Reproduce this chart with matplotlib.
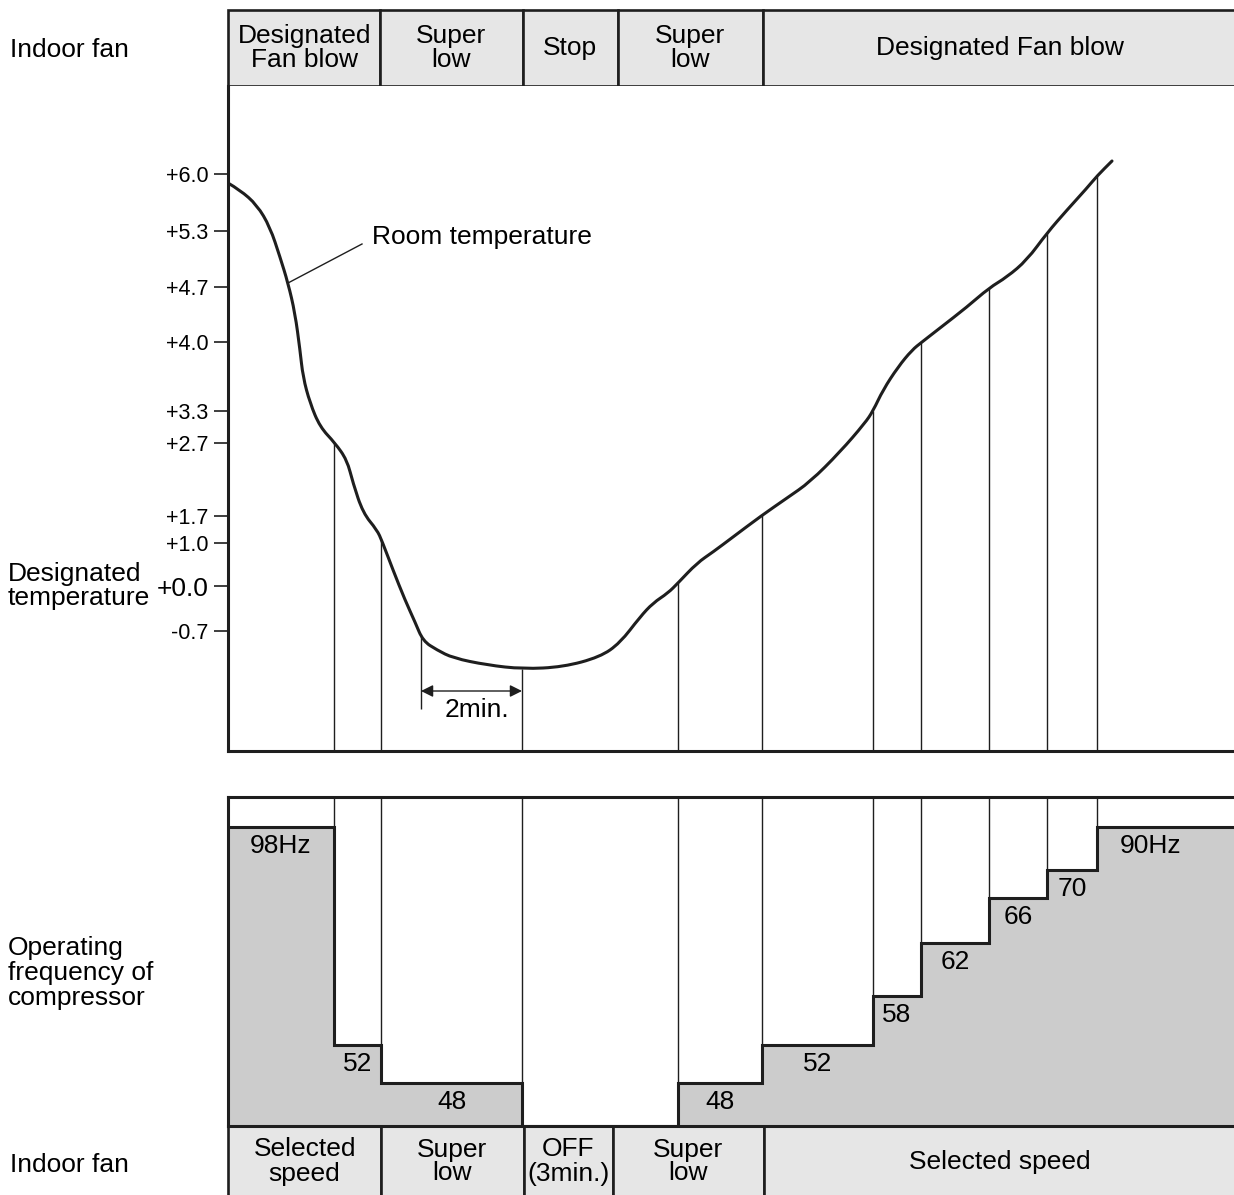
import numpy as np
import matplotlib
matplotlib.use("Agg")
import matplotlib.pyplot as plt
from matplotlib.path import Path
from matplotlib.patches import PathPatch

plt.rcParams['font.family'] = ['Liberation Sans', 'DejaVu Sans']

# ---------------- data ----------------
# time axis: schematic time units (0 .. 1006)
T_END = 1006

# indoor fan (top) segments
top_fan_edges = [0, 152, 294, 389, 534, T_END]
top_fan_labels = ["Designated\nFan blow", "Super\nlow", "Stop", "Super\nlow", "Designated Fan blow"]

# indoor fan (bottom) segments
bot_fan_edges = [0, 153, 295, 384, 535, T_END]
bot_fan_labels = ["Selected\nspeed", "Super\nlow", "OFF\n(3min.)", "Super\nlow", "Selected speed"]

# temperature scale (schematic levels) and labels
temp_levels = [577, 520, 464, 409, 340, 308, 235, 208, 165, 120]
temp_labels = ["+6.0", "+5.3", "+4.7", "+4.0", "+3.3", "+2.7", "+1.7", "+1.0", "+0.0", "-0.7"]

# room temperature curve (time, schematic level)
room_t = [0, 12, 29, 42, 52, 60, 67, 72, 75, 82, 92, 107, 119, 125, 135, 149, 154,
          165, 177, 187, 195, 209, 225, 259, 295, 335, 372, 392, 412, 425, 440, 450,
          469, 485, 505, 533, 559, 582, 612, 637, 645, 655, 670, 684, 694, 712, 739,
          761, 779, 799, 819, 839, 859, 869, 884]
room_h = [568, 561, 546, 524, 494, 468, 438, 401, 374, 348, 324, 308, 291, 268, 238, 221, 210,
          181, 151, 129, 110, 101, 93, 86, 82, 84, 94, 108, 134, 148, 158, 168,
          188, 199, 214, 235, 253, 269, 299, 328, 340, 361, 384, 401, 409, 423, 444,
          463, 474, 491, 518, 541, 563, 575, 590]

# times where the temperature crosses a threshold (drop lines)
switch_t = [106, 153, 294, 450, 534, 645, 693, 761, 819, 869]

# compressor frequency steps
freq_edges = [0, 106, 153, 294, 450, 534, 645, 693, 761, 819, 869, T_END]
freq_labels = ["98Hz", "52", "48", "", "48", "52", "58", "62", "66", "70", "90Hz"]
freq_level = [299, 81, 43, 0, 43, 81, 130, 183, 228, 256, 299]   # schematic heights

# 2 minute marker
two_min_start, two_min_end = 193, 294

# ---------------- layout ----------------
W, H = 1234, 1195
fig = plt.figure(figsize=(W / 100, H / 100), dpi=100)


def rect(x0, y0, x1, y1):
    return [x0 / W, 1 - y1 / H, (x1 - x0) / W, (y1 - y0) / H]


LC = '#1e1e1e'
FAN = '#e6e6e6'
GRAY = '#cccccc'
FS = 19


def fan_bar(ax, edges, labels):
    ax.set_xlim(0, T_END)
    ax.set_ylim(0, 1)
    ax.axis('off')
    lefts = edges[:-1]
    widths = np.diff(edges)
    ax.bar(lefts, 1, width=widths, align='edge', color=FAN, edgecolor=LC,
           linewidth=1.9, clip_on=False)
    for l, w, lab in zip(lefts, widths, labels):
        ax.text(l + w / 2, 0.5, lab, ha='center', va='center', fontsize=FS,
                linespacing=1.0)


ax_top = fig.add_axes(rect(228, 10, 1236, 86))
fan_bar(ax_top, top_fan_edges, top_fan_labels)

ax_bot = fig.add_axes(rect(228, 1126, 1236, 1197))
fan_bar(ax_bot, bot_fan_edges, bot_fan_labels)

# temperature panel
ax_t = fig.add_axes(rect(228, 86, 1234, 751))
ax_t.set_xlim(0, T_END)
ax_t.set_ylim(0, 665)
for s in ['top', 'right']:
    ax_t.spines[s].set_visible(False)
for s in ['left', 'bottom']:
    ax_t.spines[s].set_linewidth(2.2)
    ax_t.spines[s].set_color(LC)
ax_t.set_xticks([])
ax_t.set_yticks(temp_levels, temp_labels)
ax_t.tick_params(axis='y', direction='out', length=10, width=1.2, pad=4,
                 labelsize=15.5, color=LC)
for lab in ax_t.get_yticklabels():
    if lab.get_text() == "+0.0":
        lab.set_fontsize(19)

# smooth rendering of the curve (quadratic Bezier through midpoints)
pts = np.column_stack([room_t, room_h]).astype(float)
verts = [pts[0]]
codes = [Path.MOVETO]
for i in range(1, len(pts) - 1):
    verts += [pts[i], (pts[i] + pts[i + 1]) / 2]
    codes += [Path.CURVE3, Path.CURVE3]
verts.append(pts[-1])
codes.append(Path.LINETO)
ax_t.add_patch(PathPatch(Path(verts, codes), facecolor='none', edgecolor=LC,
                         lw=2.2, joinstyle='round', capstyle='round', zorder=3))

sw_h = np.interp(switch_t, room_t, room_h)
ax_t.vlines(switch_t, 0, sw_h, color=LC, lw=1.0)

# 2 min marker
h2 = np.interp(two_min_start, room_t, room_h)
ax_t.vlines([two_min_start], 42, h2, color=LC, lw=1.0)
ax_t.annotate('', xy=(two_min_end, 60), xytext=(two_min_start, 60),
              arrowprops=dict(arrowstyle='<|-|>', color=LC, lw=1.0,
                              shrinkA=0, shrinkB=0, mutation_scale=18))
ax_t.text((two_min_start + two_min_end) / 2 + 5, 41, "2min.", ha='center',
          va='center', fontsize=FS)

# leader line for room temperature
ax_t.plot([60, 134], [468, 507], color=LC, lw=1.0)
ax_t.text(144, 514, "Room temperature", ha='left', va='center', fontsize=FS)

# frequency panel
ax_f = fig.add_axes(rect(228, 797, 1234, 1126))
ax_f.set_xlim(0, T_END)
ax_f.set_ylim(0, 329)
ax_f.spines['right'].set_visible(False)
for s in ['left', 'bottom', 'top']:
    ax_f.spines[s].set_linewidth(2.2)
    ax_f.spines[s].set_color(LC)
ax_f.set_xticks([])
ax_f.set_yticks([])
ax_f.vlines(freq_edges[1:-1], 0, 329, color=LC, lw=1.0, zorder=1)
ax_f.stairs(freq_level, freq_edges, fill=True, color=GRAY, zorder=2)
ax_f.stairs(freq_level, freq_edges, baseline=None, color=LC, lw=2.2, zorder=3)
for i, lab in enumerate(freq_labels):
    if not lab:
        continue
    xc = (freq_edges[i] + freq_edges[i + 1]) / 2
    if i == len(freq_labels) - 1:
        xc -= 15
    ax_f.annotate(lab, xy=(xc, freq_level[i]), xytext=(0, -19),
                  textcoords='offset pixels', ha='center', va='center',
                  fontsize=FS, zorder=4)

# left-side labels
fig.text(10 / W, 1 - 50 / H, "Indoor fan", ha='left', va='center', fontsize=FS)
fig.text(8 / W, 1 - 586 / H, "Designated\ntemperature", ha='left', va='center',
         fontsize=FS, linespacing=1.05)
fig.text(8 / W, 1 - 973 / H, "Operating\nfrequency of\ncompressor", ha='left',
         va='center', fontsize=FS, linespacing=1.05)
fig.text(10 / W, 1 - 1165 / H, "Indoor fan", ha='left', va='center', fontsize=FS)

fig.savefig("out.png", dpi=100, facecolor='white')
